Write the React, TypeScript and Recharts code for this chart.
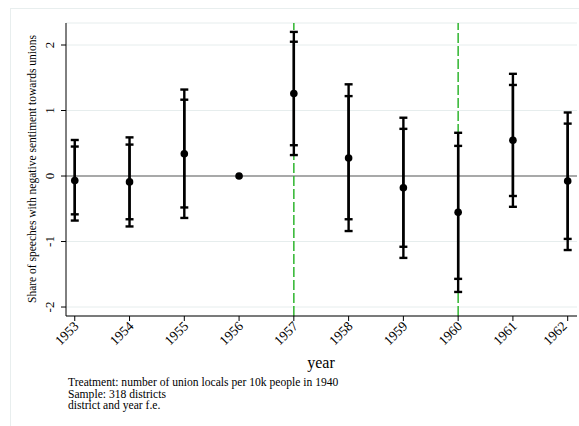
import { ComposedChart, Scatter, ErrorBar, XAxis, YAxis, CartesianGrid, ReferenceLine } from "recharts";

const years = [1953, 1954, 1955, 1956, 1957, 1958, 1959, 1960, 1961, 1962];
const coef = [-0.07, -0.09, 0.34, 0, 1.26, 0.275, -0.18, -0.555, 0.545, -0.076];
// outer bars (95%) and inner caps (90%), 1956 is the omitted base year
const ci95Low = [-0.68, -0.77, -0.64, null, 0.32, -0.84, -1.25, -1.77, -0.47, -1.13];
const ci95High = [0.55, 0.59, 1.32, null, 2.2, 1.4, 0.89, 0.66, 1.56, 0.97];
const ci90Low = [-0.585, -0.66, -0.48, null, 0.47, -0.66, -1.08, -1.57, -0.305, -0.96];
const ci90High = [0.45, 0.48, 1.165, null, 2.05, 1.22, 0.72, 0.46, 1.39, 0.8];
const yTicks = [-2, -1, 0, 1, 2];
const markedYears = [1957, 1960];
const yTitle = "Share of speeches with negative sentiment towards unions";
const xTitle = "year";
const notes = [
  "Treatment: number of union locals per 10k people in 1940",
  "Sample: 318 districts",
  "district and year f.e.",
];

const serif = '"Liberation Serif", "Times New Roman", serif';

const rows = years.map((year, i) => ({
  year,
  coef: coef[i],
  e95: ci95Low[i] == null ? undefined : [coef[i] - (ci95Low[i] as number), (ci95High[i] as number) - coef[i]],
  e90: ci90Low[i] == null ? undefined : [coef[i] - (ci90Low[i] as number), (ci90High[i] as number) - coef[i]],
}));

const renderXTick = (p: any) => {
  const x = p.x + 2;
  const y = p.y + 1;
  return (
    <g transform={`translate(${x},${y}) rotate(-45)`}>
      <text x={0} y={0} dy="0.3em" textAnchor="end" style={{ fontSize: "13.5px", fontFamily: serif }} fill="#000">
        {p.payload.value}
      </text>
    </g>
  );
};

const renderYTick = (p: any) => (
  <g transform={`translate(${p.x - 5.5},${p.y}) rotate(-90)`}>
    <text x={0} y={0} textAnchor="middle" style={{ fontSize: "13px", fontFamily: serif }} fill="#000">
      {p.payload.value}
    </text>
  </g>
);

const Dot = (p: any) => <circle cx={p.cx} cy={p.cy} r={3.8} fill="#000" />;

export default function App() {
  return (
    <div style={{ position: "absolute", left: 0, top: 0, width: 579, height: 426, background: "#fff" }}>
      <div
        style={{
          position: "absolute",
          left: 10,
          top: 8,
          width: 580,
          height: 420,
          border: "1px solid #e8eeee",
          boxSizing: "border-box",
        }}
      />
      <ComposedChart
        width={579}
        height={426}
        data={rows}
        margin={{ top: 23, right: 2, bottom: 0, left: 0 }}
        style={{ position: "absolute", left: 0, top: 0 }}
      >
        <CartesianGrid vertical={false} stroke="#e6eded" strokeWidth={1} />
        <XAxis
          dataKey="year"
          type="number"
          domain={[1952.84, 1962.17]}
          ticks={years}
          allowDataOverflow
          height={110}
          stroke="#000"
          tickSize={5}
          tick={renderXTick}
        />
        <YAxis
          type="number"
          domain={[-2.137, 2.336]}
          ticks={yTicks}
          allowDataOverflow
          width={66}
          stroke="#000"
          tickSize={5}
          tick={renderYTick}
        />
        <ReferenceLine y={0} stroke="#8f8f8f" strokeWidth={1.5} />
        {markedYears.map((yr) => (
          <ReferenceLine key={yr} x={yr} stroke="#2fb52f" strokeWidth={1.5} strokeDasharray="10 3" />
        ))}
        <Scatter dataKey="coef" fill="#000" shape={<Dot />} isAnimationActive={false}>
          <ErrorBar dataKey="e95" direction="y" width={4} stroke="#000" strokeWidth={2.4} isAnimationActive={false} />
          <ErrorBar dataKey="e90" direction="y" width={4} stroke="#000" strokeWidth={2.4} isAnimationActive={false} />
        </Scatter>
      </ComposedChart>
      <svg width={579} height={426} style={{ position: "absolute", left: 0, top: 0, pointerEvents: "none" }}>
        <text
          transform="translate(35.5,169) rotate(-90)"
          textAnchor="middle"
          fontSize={11.5}
          fontFamily={serif}
          fill="#000"
        >
          {yTitle}
        </text>
        <text x={321} y={368} textAnchor="middle" fontSize={16} fontFamily={serif} fill="#000">
          {xTitle}
        </text>
        {notes.map((n, i) => (
          <text key={i} x={68} y={385.7 + i * 11.8} fontSize={11.6} fontFamily={serif} fill="#000">
            {n}
          </text>
        ))}
      </svg>
    </div>
  );
}
